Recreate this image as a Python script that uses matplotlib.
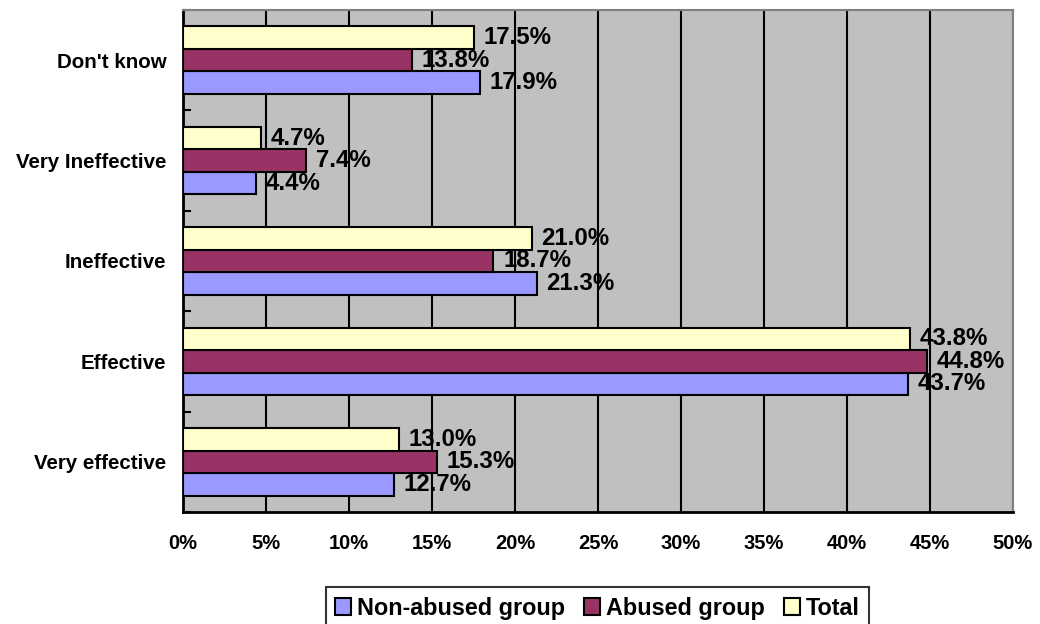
import matplotlib.pyplot as plt
import numpy as np
from matplotlib.patches import Patch

categories = ["Don't know", "Very Ineffective", "Ineffective", "Effective", "Very effective"]
non_abused = [17.9, 4.4, 21.3, 43.7, 12.7]
abused = [13.8, 7.4, 18.7, 44.8, 15.3]
total = [17.5, 4.7, 21.0, 43.8, 13.0]
series_names = ["Non-abused group", "Abused group", "Total"]
colors = ["#9999FF", "#993366", "#FFFFCC"]

plt.rcParams['font.family'] = ['Liberation Sans', 'DejaVu Sans']
plt.rcParams['font.weight'] = 'bold'

fig = plt.figure(figsize=(10.4, 6.24), dpi=100)
ax = fig.add_axes([0.176, 0.1795, 0.798, 0.8045])
ax.set_facecolor('#C0C0C0')

y = np.arange(len(categories))
h = 0.224
groups = [(non_abused, h), (abused, 0), (total, -h)]
for (vals, off), col in zip(groups, colors):
    bars = ax.barh(y + off, vals, height=h, color=col, edgecolor='black', linewidth=1.5, zorder=3)
    for b, v in zip(bars, vals):
        ax.annotate(f'{v:.1f}%', (b.get_width(), b.get_y() + b.get_height() / 2),
                    xytext=(7, 0), textcoords='offset points', va='center', ha='left',
                    fontsize=17.3, fontweight='bold', zorder=5)

ax.set_xlim(0, 50)
ax.set_ylim(4.5, -0.5)
ax.set_xticks(np.arange(0, 51, 5))
ax.set_xticklabels([f'{t}%' for t in range(0, 51, 5)], fontsize=14.5, fontweight='bold')
ax.set_yticks(y)
ax.set_yticklabels(categories, fontsize=14.8, fontweight='bold')
ax.set_yticks(np.arange(-0.5, 5, 1), minor=True)
ax.tick_params(axis='y', which='major', length=0, pad=12)
ax.tick_params(axis='y', which='minor', length=6, width=1.5, direction='in')
ax.tick_params(axis='x', length=0, pad=16)
ax.grid(axis='x', color='black', linewidth=1.5, zorder=1)

for s in ['left', 'bottom']:
    ax.spines[s].set_linewidth(2)
    ax.spines[s].set_color('black')
for s in ['top', 'right']:
    ax.spines[s].set_linewidth(1.5)
    ax.spines[s].set_color('#808080')

handles = [Patch(facecolor=c, edgecolor='black', linewidth=1.5) for c in colors]
leg = fig.legend(handles, series_names, loc='upper center', bbox_to_anchor=(0.5745, 0.059),
                 ncol=3, frameon=True, fancybox=False, edgecolor='black',
                 prop={'size': 16.8, 'weight': 'bold'}, handlelength=0.7, handleheight=0.7,
                 handletextpad=0.25, columnspacing=0.8, borderpad=0.4, borderaxespad=0)
leg.get_frame().set_linewidth(1.5)

fig.savefig('out.png', dpi=100)
